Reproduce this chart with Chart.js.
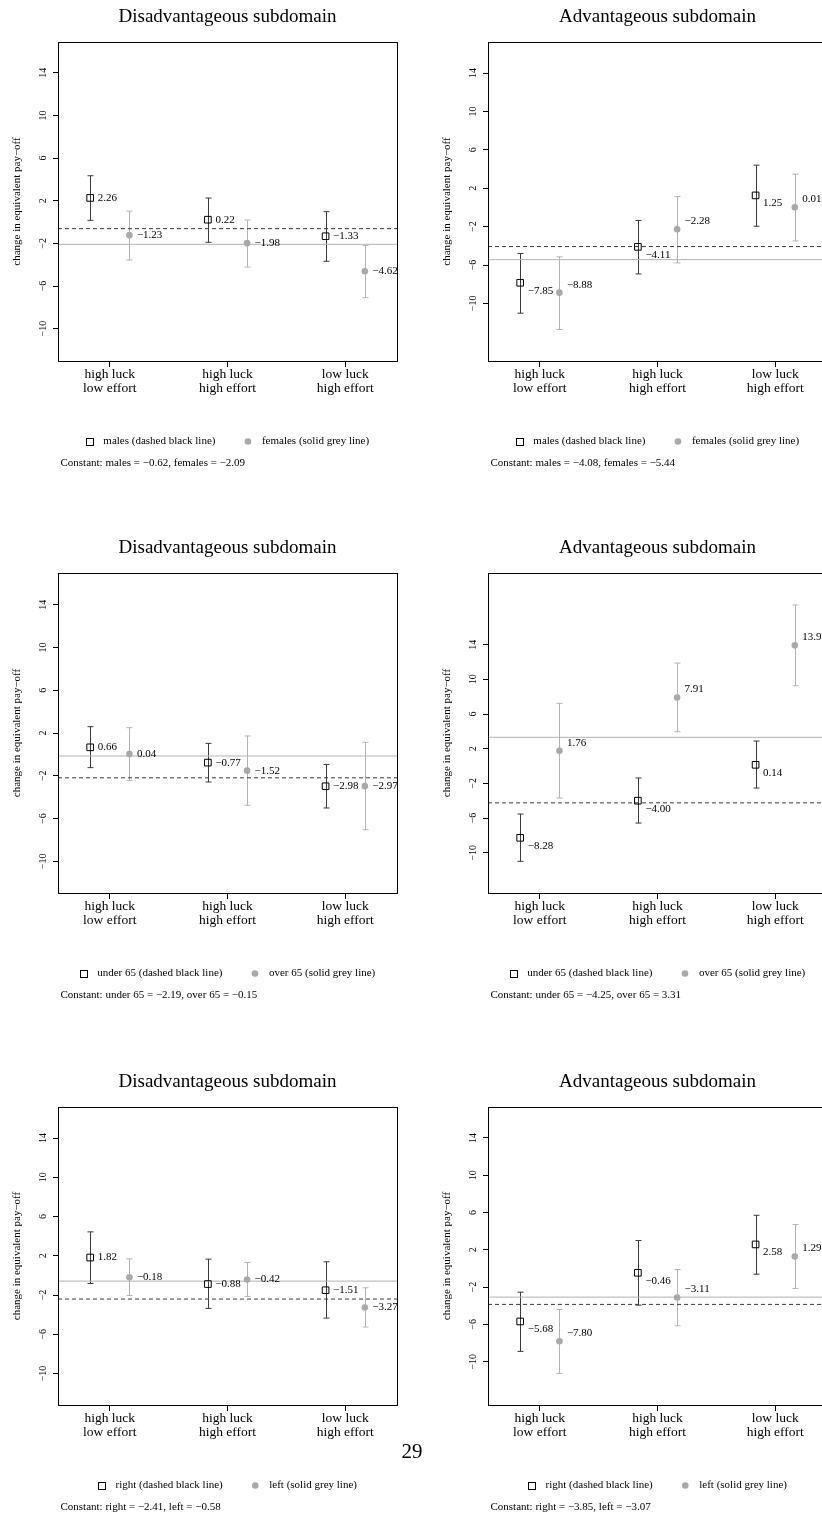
<!DOCTYPE html>
<html>
<head>
<meta charset="utf-8">
<script src="https://cdn.jsdelivr.net/npm/chart.js@4.4.1/dist/chart.umd.min.js"></script>
<style>
  html, body { margin: 0; padding: 0; background: #fff; overflow: hidden; }
  #page { position: relative; width: 822px; height: 1515px; overflow: hidden; background: #fff; }
  #page canvas { position: absolute; }
  #pageNum { position: absolute; left: 0; width: 824px; top: 1441px; text-align: center;
             font: 21px/21px 'Liberation Serif', serif; color: #000; }
</style>
</head>
<body>
<div id="page">
  <canvas id="c1" width="430" height="505" style="left:0;top:0"></canvas>
  <canvas id="c2" width="430" height="505" style="left:430px;top:0"></canvas>
  <canvas id="c3" width="430" height="510" style="left:0;top:505px"></canvas>
  <canvas id="c4" width="430" height="510" style="left:430px;top:505px"></canvas>
  <canvas id="c5" width="430" height="500" style="left:0;top:1015px"></canvas>
  <canvas id="c6" width="430" height="500" style="left:430px;top:1015px"></canvas>
  <div id="pageNum">29</div>
</div>
<script>
// categories and axis ticks shared by all panels
const categories = [["high luck", "low effort"], ["high luck", "high effort"], ["low luck", "high effort"]];
const catPositions = [1, 2, 3];
const yTickValues = [-10, -6, -2, 2, 6, 10, 14];

// gender
const genderNames = ["males (dashed black line)", "females (solid grey line)"];
const genderConstNames = ["males", "females"];
const genderDisMales = [2.26, 0.22, -1.33];
const genderDisMalesLo = [0.16, -1.90, -3.68];
const genderDisMalesHi = [4.34, 2.25, 0.97];
const genderDisFemales = [-1.23, -1.98, -4.62];
const genderDisFemalesLo = [-3.56, -4.22, -7.09];
const genderDisFemalesHi = [1.03, 0.19, -2.19];
const genderDisConst = [-0.62, -2.09];
const genderDisRange = [-13.03, 16.88];

const genderAdvMales = [-7.85, -4.11, 1.25];
const genderAdvMalesLo = [-11.02, -6.93, -1.96];
const genderAdvMalesHi = [-4.80, -1.36, 4.40];
const genderAdvFemales = [-8.88, -2.28, 0.01];
const genderAdvFemalesLo = [-12.72, -5.78, -3.49];
const genderAdvFemalesHi = [-5.15, 1.13, 3.46];
const genderAdvConst = [-4.08, -5.44];
const genderAdvRange = [-16.0, 17.23];

// age
const ageNames = ["under 65 (dashed black line)", "over 65 (solid grey line)"];
const ageConstNames = ["under 65", "over 65"];
const ageDisUnder = [0.66, -0.77, -2.98];
const ageDisUnderLo = [-1.24, -2.58, -5.01];
const ageDisUnderHi = [2.59, 1.03, -0.94];
const ageDisOver = [0.04, -1.52, -2.97];
const ageDisOverLo = [-2.43, -4.76, -7.04];
const ageDisOverHi = [2.50, 1.72, 1.13];
const ageDisConst = [-2.19, -0.15];
const ageDisRange = [-12.96, 16.96];

const ageAdvUnder = [-8.28, -4.00, 0.14];
const ageAdvUnderLo = [-11.0, -6.58, -2.54];
const ageAdvUnderHi = [-5.54, -1.38, 2.88];
const ageAdvOver = [1.76, 7.91, 13.92];
const ageAdvOverLo = [-3.69, 3.96, 9.27];
const ageAdvOverHi = [7.23, 11.88, 18.58];
const ageAdvConst = [-4.25, 3.31];
const ageAdvRange = [-14.65, 22.27];

// politics
const polNames = ["right (dashed black line)", "left (solid grey line)"];
const polConstNames = ["right", "left"];
const polDisRight = [1.82, -0.88, -1.51];
const polDisRightLo = [-0.82, -3.36, -4.35];
const polDisRightHi = [4.44, 1.66, 1.39];
const polDisLeft = [-0.18, -0.42, -3.27];
const polDisLeftLo = [-2.04, -2.14, -5.26];
const polDisLeftHi = [1.69, 1.32, -1.26];
const polDisConst = [-2.41, -0.58];
const polDisRange = [-13.21, 17.17];

const polAdvRight = [-5.68, -0.46, 2.58];
const polAdvRightLo = [-8.89, -3.93, -0.61];
const polAdvRightHi = [-2.54, 3.00, 5.71];
const polAdvLeft = [-7.80, -3.11, 1.29];
const polAdvLeftLo = [-11.25, -6.14, -2.14];
const polAdvLeftHi = [-4.39, -0.11, 4.71];
const polAdvConst = [-3.85, -3.07];
const polAdvRange = [-14.64, 17.32];

// layout
const dodge = 1 / 6;
const xRange = [0.56, 3.44];
const serif = "'Liberation Serif', 'Times New Roman', serif";
const darkCol = "#3a3a3a";
const greyCol = "#a9a9a9";
const greyBar = "#b3b3b3";

function fmt(v) {
  return v.toFixed(2).replace("-", "\u2212");
}

function whiskers(ctx, xs, ys, xv, lo, hi, color) {
  ctx.strokeStyle = color;
  ctx.lineWidth = 1;
  for (let i = 0; i < xv.length; i++) {
    const x = Math.round(xs.getPixelForValue(xv[i])) + 0.5;
    const y1 = ys.getPixelForValue(lo[i]);
    const y2 = ys.getPixelForValue(hi[i]);
    ctx.beginPath();
    ctx.moveTo(x, y1); ctx.lineTo(x, y2);
    ctx.moveTo(x - 3, y1); ctx.lineTo(x + 3, y1);
    ctx.moveTo(x - 3, y2); ctx.lineTo(x + 3, y2);
    ctx.stroke();
  }
}

function makePanel(cfg) {
  const canvas = document.getElementById(cfg.canvasId);
  const W = canvas.width, H = canvas.height;
  const xAxisH = 40;
  const xa = catPositions.map(c => c - dodge);
  const xb = catPositions.map(c => c + dodge);

  const decor = {
    id: "decor",
    beforeDatasetsDraw(chart) {
      const ctx = chart.ctx, area = chart.chartArea;
      ctx.save();
      ctx.beginPath();
      ctx.rect(area.left, area.top, area.right - area.left, area.bottom - area.top);
      ctx.clip();
      whiskers(ctx, chart.scales.x, chart.scales.y, xb, cfg.bLo, cfg.bHi, greyBar);
      whiskers(ctx, chart.scales.x, chart.scales.y, xa, cfg.aLo, cfg.aHi, darkCol);
      ctx.restore();
    },
    afterDatasetsDraw(chart) {
      const ctx = chart.ctx;
      ctx.save();
      ctx.font = "11px " + serif;
      ctx.fillStyle = "#000";
      ctx.textAlign = "left";
      ctx.textBaseline = "middle";
      [cfg.a, cfg.b].forEach((vals, d) => {
        const pts = chart.getDatasetMeta(d).data;
        pts.forEach((pt, i) => {
          ctx.fillText(fmt(vals[i]), pt.x + 7.5, pt.y + cfg.shift[d]);
        });
      });
      ctx.restore();
    },
    afterDraw(chart) {
      const ctx = chart.ctx, area = chart.chartArea, ys = chart.scales.y;
      const cx = (area.left + area.right) / 2;
      ctx.save();
      // box
      ctx.strokeStyle = "#000";
      ctx.lineWidth = 1;
      ctx.strokeRect(area.left + 0.5, area.top + 0.5, area.right - area.left, area.bottom - area.top);
      // title
      ctx.fillStyle = "#000";
      ctx.font = "19px " + serif;
      ctx.textAlign = "center";
      ctx.textBaseline = "alphabetic";
      ctx.fillText(cfg.title, cx, area.top - 20.5);
      // rotated y tick labels
      ctx.font = "10px " + serif;
      ctx.textBaseline = "middle";
      yTickValues.forEach(v => {
        ctx.save();
        ctx.translate(area.left - 14.5, ys.getPixelForValue(v));
        ctx.rotate(-Math.PI / 2);
        ctx.fillText(String(v).replace("-", "\u2212"), 0, 0);
        ctx.restore();
      });
      // legend
      ctx.font = "11px " + serif;
      ctx.textAlign = "left";
      const w1 = ctx.measureText(cfg.names[0]).width;
      const w2 = ctx.measureText(cfg.names[1]).width;
      const total = 3.5 + 14 + w1 + 32.5 + 14 + w2;
      const ly = area.bottom + 80.5;
      let lx = cx - total / 2 + 3.5;
      ctx.strokeStyle = "#000";
      ctx.strokeRect(Math.round(lx - 3.5) + 0.5, Math.round(ly - 3.5) + 0.5, 7, 7);
      ctx.fillText(cfg.names[0], lx + 14, ly);
      lx = lx + 14 + w1 + 32.5;
      ctx.fillStyle = greyCol;
      ctx.beginPath();
      ctx.arc(lx, ly, 3.3, 0, Math.PI * 2);
      ctx.fill();
      ctx.fillStyle = "#000";
      ctx.fillText(cfg.names[1], lx + 14, ly);
      // constants
      const cText = "Constant: " + cfg.constNames[0] + " = " + fmt(cfg.consts[0]) + ", " +
                    cfg.constNames[1] + " = " + fmt(cfg.consts[1]);
      ctx.fillText(cText, area.left + 2.5, area.bottom + 102);
      ctx.restore();
    }
  };

  new Chart(canvas, {
    type: "scatter",
    data: {
      datasets: [
        {
          data: xa.map((x, i) => ({ x: x, y: cfg.a[i] })),
          pointStyle: "rect", pointRadius: 4.7, borderWidth: 1,
          borderColor: "#000", backgroundColor: "rgba(0,0,0,0)"
        },
        {
          data: xb.map((x, i) => ({ x: x, y: cfg.b[i] })),
          pointStyle: "circle", pointRadius: 3.3, borderWidth: 0,
          borderColor: greyCol, backgroundColor: greyCol
        },
        {
          data: xRange.map(x => ({ x: x, y: cfg.consts[0] })),
          showLine: true, pointRadius: 0, borderWidth: 1,
          borderColor: darkCol, borderDash: [4, 3]
        },
        {
          data: xRange.map(x => ({ x: x, y: cfg.consts[1] })),
          showLine: true, pointRadius: 0, borderWidth: 1,
          borderColor: greyBar
        }
      ]
    },
    options: {
      responsive: false,
      animation: false,
      events: [],
      layout: {
        autoPadding: false,
        padding: { top: cfg.boxTop, left: 0, right: W - 397, bottom: H - cfg.boxBottom - xAxisH }
      },
      plugins: { legend: { display: false }, tooltip: { enabled: false }, title: { display: false } },
      scales: {
        x: {
          type: "linear",
          min: xRange[0],
          max: xRange[1],
          afterBuildTicks: s => { s.ticks = catPositions.map(v => ({ value: v })); },
          afterFit: s => { s.height = xAxisH; },
          grid: { drawOnChartArea: false, drawTicks: true, tickLength: 6, color: "#000", lineWidth: 1 },
          border: { display: false },
          ticks: {
            autoSkip: false, maxRotation: 0, minRotation: 0, padding: 0, color: "#000",
            font: { family: serif, size: 13.5, lineHeight: 1.04 },
            callback: v => categories[catPositions.indexOf(v)]
          }
        },
        y: {
          type: "linear",
          min: cfg.range[0],
          max: cfg.range[1],
          afterBuildTicks: s => { s.ticks = yTickValues.map(v => ({ value: v })); },
          afterFit: s => { s.width = 58; },
          grid: { drawOnChartArea: false, drawTicks: true, tickLength: 5, color: "#000", lineWidth: 1 },
          border: { display: false },
          ticks: { display: false },
          title: {
            display: true, text: "change in equivalent pay\u2212off", color: "#000",
            font: { family: serif, size: 11 }, padding: { top: 10.4, bottom: 0 }
          }
        }
      }
    },
    plugins: [decor]
  });
}

makePanel({ canvasId: "c1", title: "Disadvantageous subdomain", boxTop: 42, boxBottom: 361,
  a: genderDisMales, aLo: genderDisMalesLo, aHi: genderDisMalesHi,
  b: genderDisFemales, bLo: genderDisFemalesLo, bHi: genderDisFemalesHi,
  consts: genderDisConst, range: genderDisRange, names: genderNames, constNames: genderConstNames, shift: [0, 0] });
makePanel({ canvasId: "c2", title: "Advantageous subdomain", boxTop: 42, boxBottom: 361,
  a: genderAdvMales, aLo: genderAdvMalesLo, aHi: genderAdvMalesHi,
  b: genderAdvFemales, bLo: genderAdvFemalesLo, bHi: genderAdvFemalesHi,
  consts: genderAdvConst, range: genderAdvRange, names: genderNames, constNames: genderConstNames, shift: [8, -8] });
makePanel({ canvasId: "c3", title: "Disadvantageous subdomain", boxTop: 68, boxBottom: 388,
  a: ageDisUnder, aLo: ageDisUnderLo, aHi: ageDisUnderHi,
  b: ageDisOver, bLo: ageDisOverLo, bHi: ageDisOverHi,
  consts: ageDisConst, range: ageDisRange, names: ageNames, constNames: ageConstNames, shift: [0, 0] });
makePanel({ canvasId: "c4", title: "Advantageous subdomain", boxTop: 68, boxBottom: 388,
  a: ageAdvUnder, aLo: ageAdvUnderLo, aHi: ageAdvUnderHi,
  b: ageAdvOver, bLo: ageAdvOverLo, bHi: ageAdvOverHi,
  consts: ageAdvConst, range: ageAdvRange, names: ageNames, constNames: ageConstNames, shift: [8, -8] });
makePanel({ canvasId: "c5", title: "Disadvantageous subdomain", boxTop: 92, boxBottom: 390,
  a: polDisRight, aLo: polDisRightLo, aHi: polDisRightHi,
  b: polDisLeft, bLo: polDisLeftLo, bHi: polDisLeftHi,
  consts: polDisConst, range: polDisRange, names: polNames, constNames: polConstNames, shift: [0, 0] });
makePanel({ canvasId: "c6", title: "Advantageous subdomain", boxTop: 92, boxBottom: 390,
  a: polAdvRight, aLo: polAdvRightLo, aHi: polAdvRightHi,
  b: polAdvLeft, bLo: polAdvLeftLo, bHi: polAdvLeftHi,
  consts: polAdvConst, range: polAdvRange, names: polNames, constNames: polConstNames, shift: [8, -8] });
</script>
</body>
</html>
